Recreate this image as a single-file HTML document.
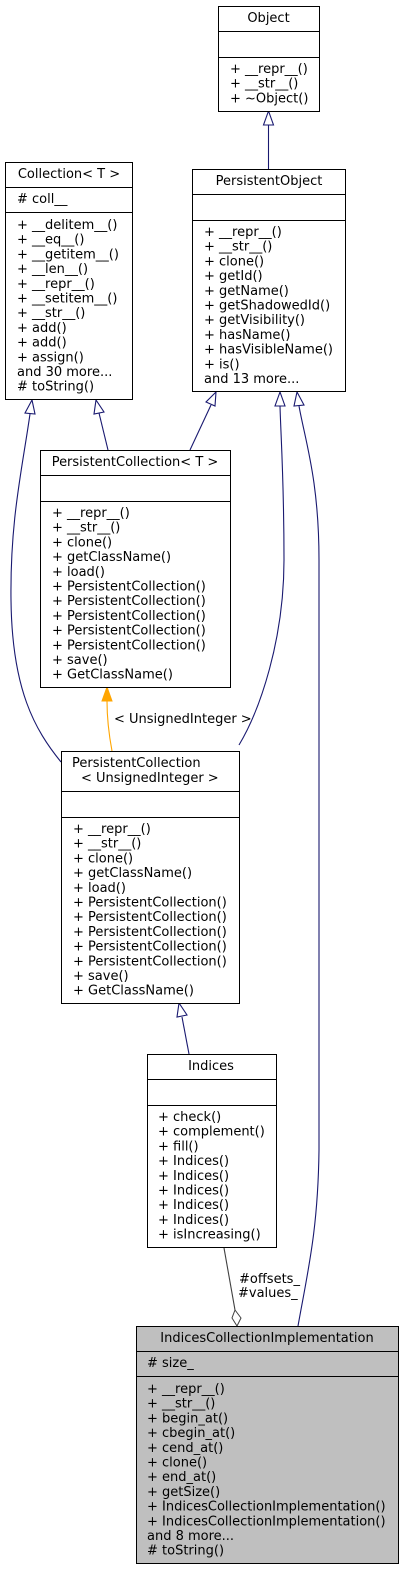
<!DOCTYPE html>
<html><head><meta charset="utf-8"><style>
html,body{margin:0;padding:0;background:#fff;}
svg{display:block;}
text{font-family:"DejaVu Sans","Liberation Sans",sans-serif;font-size:13px;fill:#000;}
</style></head><body>
<svg width="404" height="1569" viewBox="0 0 404 1569" xmlns="http://www.w3.org/2000/svg">
<g fill="none" stroke="#191970" stroke-width="1.1">
<path d="M268.5,125 L268.5,169"/>
<polygon fill="#fff" points="268.5,111 263.5,125 273.5,125"/>
<path d="M108,450 L99,413"/>
<polygon fill="#fff" points="96,400 94,414 104,412"/>
<path d="M61,762 C35,730 12,690 11,600 C10,520 22,470 30,414"/>
<polygon fill="#fff" points="32,400 25,413 35,414"/>
<path d="M190,450 L211,405"/>
<polygon fill="#fff" points="216,392 206,402 215,406"/>
<path d="M239,745 C260,710 284,640 284,560 C284,480 281,440 280,406"/>
<polygon fill="#fff" points="280,392 275,406 285,406"/>
<path d="M298,1326 C308,1270 318,1230 319,1150 L319,560 C319,480 305,440 299,406"/>
<polygon fill="#fff" points="297,392 294,406 304,405"/>
<path d="M189,1054 L182,1017"/>
<polygon fill="#fff" points="179,1003 177,1017 187,1015"/>
</g>
<path d="M112,751 C109,735 107,720 107,701" fill="none" stroke="#FFA500" stroke-width="1.1"/>
<polygon fill="#FFA500" stroke="#FFA500" points="107,687 102,701 112,701"/>
<text x="114" y="723">&lt; UnsignedInteger &gt;</text>
<path d="M224,1248 L235,1310" fill="none" stroke="#404040" stroke-width="1.1"/>
<polygon fill="#fff" stroke="#404040" points="237,1326 232,1318 235,1310 241,1318"/>
<text x="239" y="1283">#offsets_</text>
<text x="238" y="1297">#values_</text>

<g stroke="#000" stroke-width="1" fill="#fff">
<rect x="218.5" y="6.5" width="101" height="105"/>
<path d="M218.5,31.5H319.5M218.5,57.5H319.5"/>
<rect x="5.5" y="162.5" width="127" height="237"/>
<path d="M5.5,187.5H132.5M5.5,212.5H132.5"/>
<rect x="192.5" y="169.5" width="153" height="222"/>
<path d="M192.5,194.5H345.5M192.5,220.5H345.5"/>
<rect x="40.5" y="450.5" width="190" height="237"/>
<path d="M40.5,475.5H230.5M40.5,501.5H230.5"/>
<rect x="61.5" y="751.5" width="178" height="252"/>
<path d="M61.5,791.5H239.5M61.5,817.5H239.5"/>
<rect x="147.5" y="1054.5" width="129" height="193"/>
<path d="M147.5,1079.5H276.5M147.5,1105.5H276.5"/>
<rect x="136.5" y="1326.5" width="262" height="237" fill="#bfbfbf"/>
<path d="M136.5,1351.5H398.5M136.5,1376.5H398.5"/>
</g>

<g text-anchor="middle">
<text x="268.5" y="22">Object</text>
<text x="69" y="178">Collection&lt; T &gt;</text>
<text x="269" y="185">PersistentObject</text>
<text x="135" y="466">PersistentCollection&lt; T &gt;</text>
</g>
<text x="72" y="767">PersistentCollection</text>
<text x="81" y="782">&lt; UnsignedInteger &gt;</text>
<text x="211" y="1070" text-anchor="middle">Indices</text>
<text x="267" y="1342" text-anchor="middle">IndicesCollectionImplementation</text>

<g>
<text x="230" y="73">+ __repr__()</text>
<text x="230" y="87.7">+ __str__()</text>
<text x="230" y="102.4">+ ~Object()</text>
</g>
<g>
<text x="17" y="203"># coll__</text>
<text x="17" y="229">+ __delitem__()</text>
<text x="17" y="243.7">+ __eq__()</text>
<text x="17" y="258.4">+ __getitem__()</text>
<text x="17" y="273.1">+ __len__()</text>
<text x="17" y="287.8">+ __repr__()</text>
<text x="17" y="302.5">+ __setitem__()</text>
<text x="17" y="317.2">+ __str__()</text>
<text x="17" y="331.9">+ add()</text>
<text x="17" y="346.6">+ add()</text>
<text x="17" y="361.3">+ assign()</text>
<text x="17" y="376">and 30 more...</text>
<text x="17" y="390.7"># toString()</text>
</g>
<g>
<text x="204" y="236">+ __repr__()</text>
<text x="204" y="250.7">+ __str__()</text>
<text x="204" y="265.4">+ clone()</text>
<text x="204" y="280.1">+ getId()</text>
<text x="204" y="294.8">+ getName()</text>
<text x="204" y="309.5">+ getShadowedId()</text>
<text x="204" y="324.2">+ getVisibility()</text>
<text x="204" y="338.9">+ hasName()</text>
<text x="204" y="353.6">+ hasVisibleName()</text>
<text x="204" y="368.3">+ is()</text>
<text x="204" y="383">and 13 more...</text>
</g>
<g>
<text x="52" y="517">+ __repr__()</text>
<text x="52" y="531.7">+ __str__()</text>
<text x="52" y="546.4">+ clone()</text>
<text x="52" y="561.1">+ getClassName()</text>
<text x="52" y="575.8">+ load()</text>
<text x="52" y="590.5">+ PersistentCollection()</text>
<text x="52" y="605.2">+ PersistentCollection()</text>
<text x="52" y="619.9">+ PersistentCollection()</text>
<text x="52" y="634.6">+ PersistentCollection()</text>
<text x="52" y="649.3">+ PersistentCollection()</text>
<text x="52" y="664">+ save()</text>
<text x="52" y="678.7">+ GetClassName()</text>
</g>
<g>
<text x="73" y="833">+ __repr__()</text>
<text x="73" y="847.7">+ __str__()</text>
<text x="73" y="862.4">+ clone()</text>
<text x="73" y="877.1">+ getClassName()</text>
<text x="73" y="891.8">+ load()</text>
<text x="73" y="906.5">+ PersistentCollection()</text>
<text x="73" y="921.2">+ PersistentCollection()</text>
<text x="73" y="935.9">+ PersistentCollection()</text>
<text x="73" y="950.6">+ PersistentCollection()</text>
<text x="73" y="965.3">+ PersistentCollection()</text>
<text x="73" y="980">+ save()</text>
<text x="73" y="994.7">+ GetClassName()</text>
</g>
<g>
<text x="158" y="1121">+ check()</text>
<text x="158" y="1135.7">+ complement()</text>
<text x="158" y="1150.4">+ fill()</text>
<text x="158" y="1165.1">+ Indices()</text>
<text x="158" y="1179.8">+ Indices()</text>
<text x="158" y="1194.5">+ Indices()</text>
<text x="158" y="1209.2">+ Indices()</text>
<text x="158" y="1223.9">+ Indices()</text>
<text x="158" y="1238.6">+ isIncreasing()</text>
</g>
<g>
<text x="147" y="1367"># size_</text>
<text x="147" y="1393">+ __repr__()</text>
<text x="147" y="1407.7">+ __str__()</text>
<text x="147" y="1422.4">+ begin_at()</text>
<text x="147" y="1437.1">+ cbegin_at()</text>
<text x="147" y="1451.8">+ cend_at()</text>
<text x="147" y="1466.5">+ clone()</text>
<text x="147" y="1481.2">+ end_at()</text>
<text x="147" y="1495.9">+ getSize()</text>
<text x="147" y="1510.6">+ IndicesCollectionImplementation()</text>
<text x="147" y="1525.3">+ IndicesCollectionImplementation()</text>
<text x="147" y="1540">and 8 more...</text>
<text x="147" y="1554.7"># toString()</text>
</g>
</svg>
</body></html>
